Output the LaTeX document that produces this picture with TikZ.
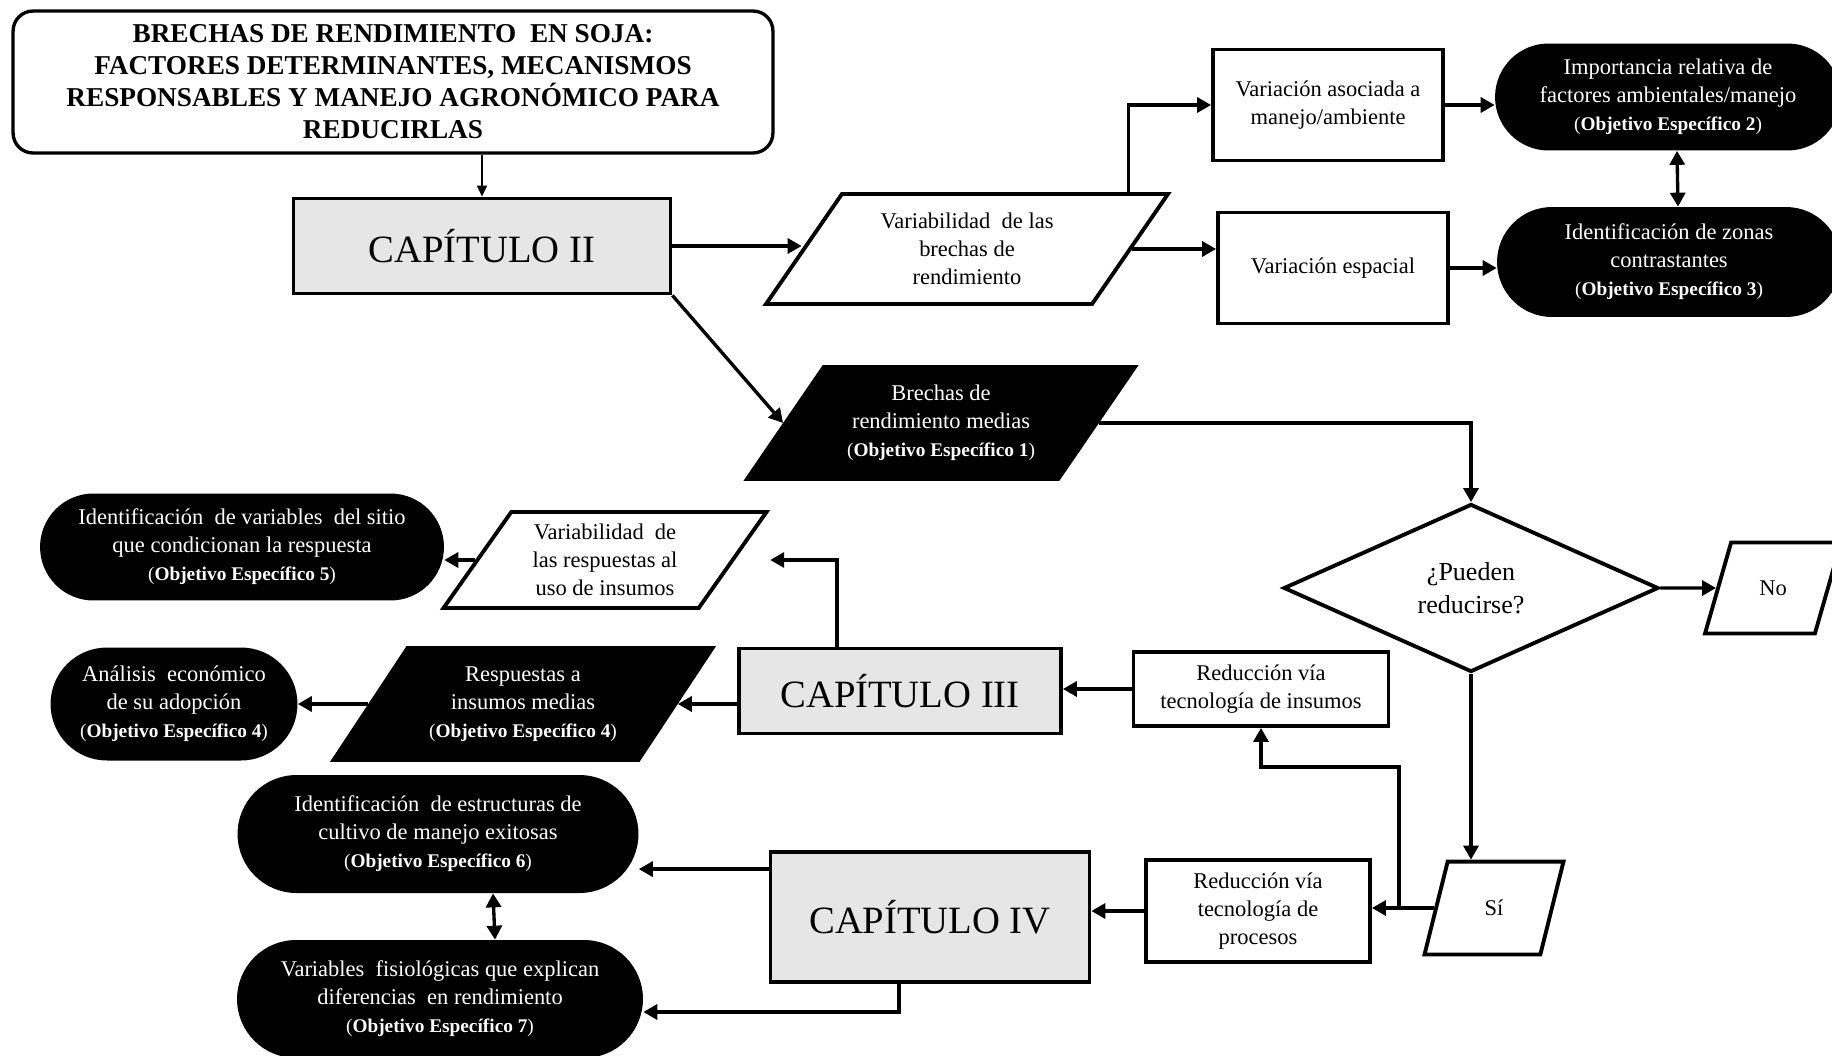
\documentclass[tikz,border=0pt]{standalone}
\usepackage{fontspec}
\setmainfont{Liberation Serif}
\usetikzlibrary{shapes.geometric,shapes.misc,arrows.meta}
\definecolor{gris}{RGB}{230,230,230}
\newcommand{\objesp}[1]{{\fontsize{11}{15.9}\selectfont(\textbf{Objetivo Específico #1})}}

\begin{document}
\begin{tikzpicture}[x=0.02cm,y=-0.02cm,
  texto/.style={font=\fontsize{12.8}{15.9}\selectfont, align=center, inner sep=0pt},
  caja/.style={texto, shape=rectangle, draw=black, line width=2.2pt},
  capitulo/.style={caja, fill=gris, font=\fontsize{22}{26}\selectfont},
  objetivo/.style={texto, shape=rounded rectangle, fill=black, text=white},
  datos/.style={texto, shape=trapezium, trapezium left angle=54, trapezium right angle=126,
    trapezium stretches body, draw=black, line width=2.2pt},
  oscuro/.style={datos, fill=black, text=white},
  flecha/.style={line width=1.9pt, -{Triangle[length=0.28cm,width=0.3cm]}},
  doble/.style={line width=1.9pt, {Triangle[length=0.28cm,width=0.3cm]}-{Triangle[length=0.28cm,width=0.3cm]}},
  fina/.style={line width=0.8pt, -{Triangle[length=0.22cm,width=0.2cm]}}]
\useasboundingbox (0,0) rectangle (1832,1055);

\node[texto, draw=black, line width=1.9pt, rounded corners=0.4cm, minimum width=15.2cm, minimum height=2.84cm,
  font=\bfseries\fontsize{15.5}{18.2}\selectfont](titulo) at (393,82)
  {BRECHAS DE RENDIMIENTO\ \ EN SOJA:\\FACTORES DETERMINANTES, MECANISMOS\\RESPONSABLES Y MANEJO AGRONÓMICO PARA\\REDUCIRLAS};
\node[capitulo, minimum width=7.54cm, minimum height=1.9cm](cap2) at (482,246) {CAPÍTULO II};
\node[datos, trapezium left angle=53, trapezium right angle=127, inner ysep=0.29cm,
  minimum width=8.04cm, minimum height=2.2cm](varbre) at (967,249) {Variabilidad\ \ de las\\brechas de\\rendimiento};
\node[caja, minimum width=4.6cm, minimum height=2.22cm](varman) at (1328,105) {Variación asociada a\\manejo/ambiente};
\node[caja, minimum width=4.6cm, minimum height=2.22cm](varesp) at (1333,268) {Variación espacial};
\node[objetivo, minimum width=6.92cm, minimum height=2.14cm](objdos) at (1668,97) {Importancia relativa de\\factores ambientales/manejo\\\objesp{2}};
\node[objetivo, minimum width=6.88cm, minimum height=2.2cm](objtres) at (1669,262) {Identificación de zonas\\contrastantes\\\objesp{3}};
\node[oscuro, inner ysep=0.3cm, minimum width=7.76cm, minimum height=2.24cm](medias) at (941,423) {Brechas de\\rendimiento medias\\\objesp{1}};
\node[texto, shape=diamond, draw=black, line width=2.2pt, minimum width=7.5cm, minimum height=3.36cm,
  font=\fontsize{14.8}{18.8}\selectfont](pueden) at (1471,588) {¿Pueden\\reducirse?};
\node[datos, trapezium left angle=74, trapezium right angle=106, inner ysep=0.76cm,
  minimum width=2.72cm, minimum height=1.78cm](no) at (1773,588) {No};
\node[datos, trapezium left angle=76, trapezium right angle=104, inner ysep=0.77cm,
  minimum width=2.78cm, minimum height=1.8cm](si) at (1494,908) {Sí};
\node[caja, minimum width=5.1cm, minimum height=1.48cm](insumos) at (1261,689) {Reducción vía\\tecnología de insumos};
\node[caja, minimum width=4.48cm, minimum height=2.04cm](procesos) at (1258,911) {Reducción vía\\tecnología de\\procesos};
\node[capitulo, minimum width=6.44cm, minimum height=1.7cm](cap3) at (900,691) {CAPÍTULO III};
\node[capitulo, minimum width=6.38cm, minimum height=2.6cm](cap4) at (930,917) {CAPÍTULO IV};
\node[datos, trapezium left angle=52, trapezium right angle=128, inner ysep=0.15cm,
  minimum width=6.46cm, minimum height=1.92cm](varresp) at (605,560) {Variabilidad\ \ de\\las respuestas al\\uso de insumos};
\node[objetivo, minimum width=8.08cm, minimum height=2.14cm](objcinco) at (242,547) {Identificación\ \ de variables\ \ del sitio\\que condicionan la respuesta\\\objesp{5}};
\node[oscuro, trapezium left angle=55, trapezium right angle=125, inner ysep=0.31cm,
  minimum width=7.58cm, minimum height=2.24cm](insmed) at (523,704) {Respuestas a\\insumos medias\\\objesp{4}};
\node[objetivo, minimum width=4.94cm, minimum height=2.26cm](objcuatro) at (174,704) {Análisis\ \ económico\\de su adopción\\\objesp{4}};
\node[objetivo, minimum width=8.02cm, minimum height=2.36cm](objseis) at (438,834) {Identificación\ \ de estructuras de\\cultivo de manejo exitosas\\\objesp{6}};
\node[objetivo, minimum width=8.12cm, minimum height=2.36cm](objsiete) at (440,999) {Variables\ \ fisiológicas que explican\\diferencias\ \ en rendimiento\\\objesp{7}};

\draw[fina] (titulo.south -| cap2.north) -- (cap2.north);
\draw[flecha] (cap2.east) -- (cap2.east -| varbre.west);
\draw[flecha] ([xshift=-0.86cm]varbre.top right corner) |- (varman.west);
\draw[flecha] (varbre.east) -- (varbre.east -| varesp.west);
\draw[flecha] (varman.east) -- (varman.east -| objdos.west);
\draw[flecha] (varesp.east) -- (varesp.east -| objtres.west);
\draw[doble] ([xshift=0.18cm]objdos.south) -- ([xshift=0.18cm]objtres.north);
\draw[flecha] (cap2.south east) -- (medias.west);
\draw[flecha] (medias.east) -| (pueden.north);
\draw[flecha] (pueden.east) -- (no.west);
\draw[flecha] (pueden.south) -- (pueden.south |- si.north);
\draw[flecha] (si.west) -- (si.west -| procesos.east);
\coordinate (cruce) at (1399,908);
\draw[flecha] (cruce) -- ++(0,-141) -| (insumos.south);
\draw[flecha] (insumos.west) -- (insumos.west -| cap3.east);
\draw[flecha] (procesos.west) -- (procesos.west -| cap4.east);
\draw[flecha] ([xshift=-1.26cm]cap3.north) |- (varresp.top right corner |- varresp.east);
\draw[flecha] (varresp.west) -- (varresp.west -| objcinco.east);
\draw[flecha] (cap3.west |- insmed.east) -- (insmed.east);
\draw[flecha] (insmed.west) -- (insmed.west -| objcuatro.east);
\coordinate (ivsale) at ([yshift=-0.38cm]cap4.north west);
\draw[flecha] (ivsale) -- (ivsale -| objseis.east);
\draw[flecha] ([xshift=-0.62cm]cap4.south) |- ([yshift=-0.26cm]objsiete.east);
\draw[doble] ([xshift=1.1cm]objseis.south) -- ([xshift=1.1cm]objsiete.north);
\end{tikzpicture}
\end{document}
